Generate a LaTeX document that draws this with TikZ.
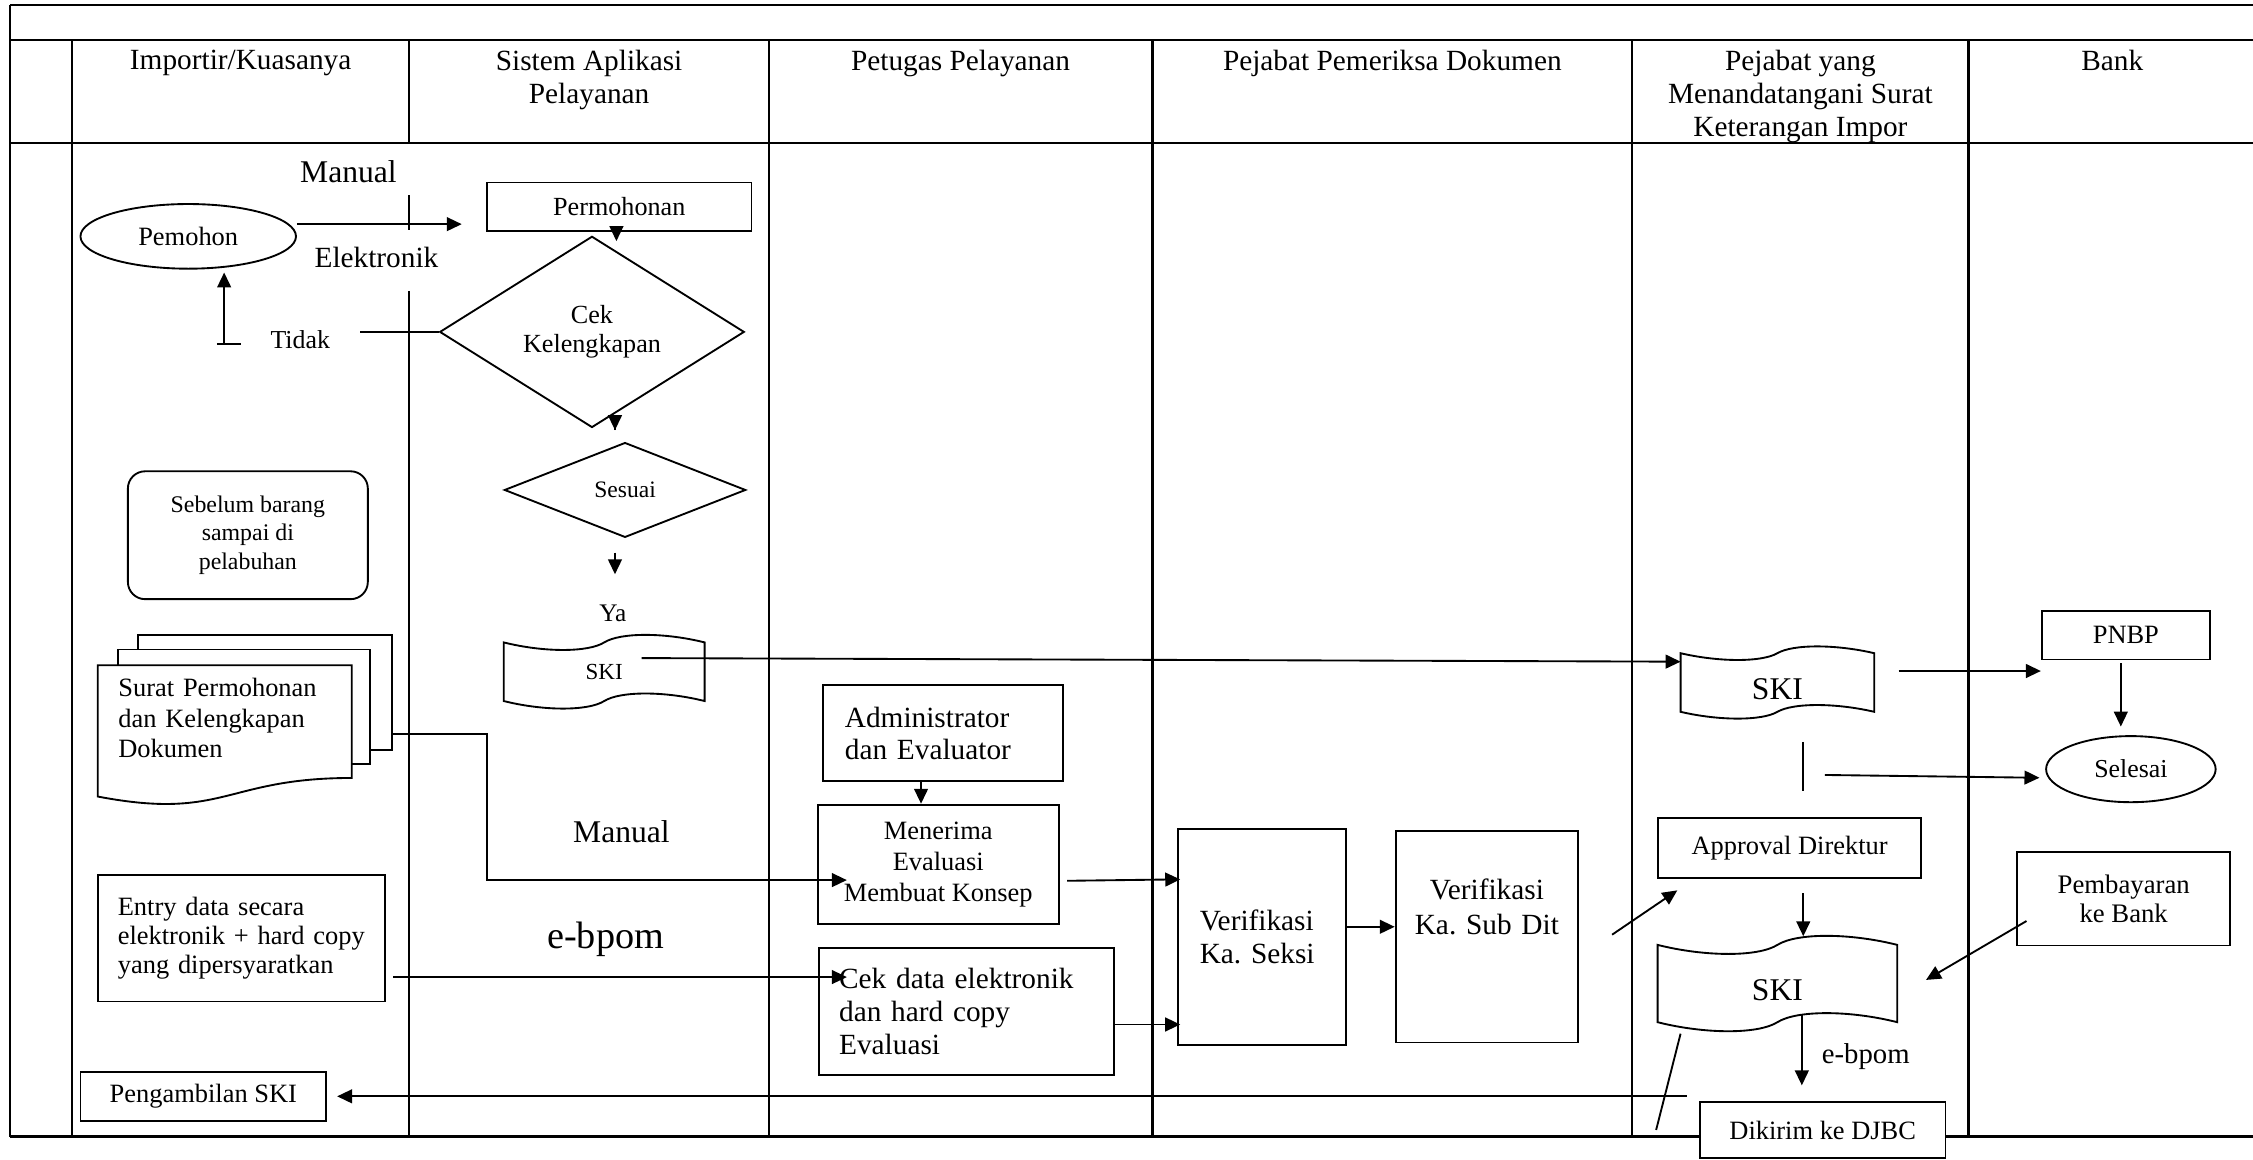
\documentclass[tikz,border=0pt]{standalone}
\usepackage{fontspec}
\setmainfont{Liberation Serif}
\usepackage{tikz}
\usetikzlibrary{positioning}
\usetikzlibrary{calc}
\usetikzlibrary{arrows.meta}
\usetikzlibrary{shapes.geometric}

\newcommand{\fsz}[2]{\fontsize{#1}{#2}\selectfont}

% punched tape outline round a node
\newcommand{\tapeoutline}[2]{%
  \draw[line width=0.65pt] (#1.north west)
    .. controls ($(#1.north west)!0.2!(#1.north east)+(0,1.4*#2)$) and ($(#1.north west)!0.42!(#1.north east)+(0,1.4*#2)$)
    .. ($(#1.north west)!0.5!(#1.north east)$)
    .. controls ($(#1.north west)!0.58!(#1.north east)-(0,1.4*#2)$) and ($(#1.north west)!0.8!(#1.north east)-(0,1.4*#2)$)
    .. (#1.north east) -- (#1.south east)
    .. controls ($(#1.south west)!0.8!(#1.south east)-(0,1.4*#2)$) and ($(#1.south west)!0.58!(#1.south east)-(0,1.4*#2)$)
    .. ($(#1.south west)!0.5!(#1.south east)$)
    .. controls ($(#1.south west)!0.42!(#1.south east)+(0,1.4*#2)$) and ($(#1.south west)!0.2!(#1.south east)+(0,1.4*#2)$)
    .. (#1.south west) -- cycle;}

% stacked documents round a node
\newcommand{\multidoc}[1]{%
  \draw[line width=0.65pt] ($(#1.north west)+(28,-11)$) -- ($(#1.north west)+(28,-21)$) -- ($(#1.north east)+(28,-21)$) -- ($(#1.north east)+(28,59)$) -- ($(#1.north east)+(13,59)$);
  \draw[line width=0.65pt] ($(#1.north west)+(14,0)$) -- ($(#1.north west)+(14,-11)$) -- ($(#1.north east)+(13,-11)$) -- ($(#1.north east)+(13,69)$) -- ($(#1.north east)+(0,69)$);
  \draw[line width=0.65pt] (#1.north west) -- (#1.north east)
    -- ($(#1.north east)!0.802!(#1.south east)$)
    .. controls ($(#1.north)!0.802!(#1.south)$) and ($(#1.north)!1.107!(#1.south)$)
    .. ($(#1.north west)!0.934!(#1.south west)$) -- cycle;}

\begin{document}
\frenchspacing
\begin{tikzpicture}[
    x=0.5pt, y=-0.5pt,
    tableline/.style={line width=0.8pt},
    headnode/.style={anchor=north, align=center, inner sep=0pt, font=\fsz{10.2}{11.5}},
    boxnode/.style={rectangle, draw=black, line width=0.65pt, inner sep=0pt, align=center, font=\fsz{9.2}{10.7}},
    leftnode/.style={boxnode, inner xsep=7pt, align=left},
    ellipsenode/.style={ellipse, draw=black, line width=0.65pt, inner sep=0pt, font=\fsz{9.2}{11}},
    diamondnode/.style={diamond, draw=black, line width=0.65pt, inner sep=0pt, align=center, font=\fsz{9.1}{10.25}},
    tapenode/.style={rectangle, inner sep=0pt},
    labelnode/.style={anchor=base, inner sep=0pt},
    arr/.style={-{Triangle[length=5.2pt,width=4.8pt]}, line width=0.65pt},
    plainline/.style={line width=0.65pt},
    ]

    \useasboundingbox (0,0) rectangle (1568,807);

    %Frame
    \draw[tableline] (7,3.5) -- (1568,3.5);
    \draw[tableline] (7,28) -- (1568,28);
    \draw[tableline] (7,99.5) -- (1568,99.5);
    \draw[tableline] (7,791) -- (1568,791);
    \draw[tableline] (7,3.5) -- (7,791);
    \foreach \x in {50,535,802,1136,1370}
        \draw[tableline] (\x,28) -- (\x,791);
    \draw[tableline] (284.6,28) -- (284.6,99.5);
    \draw[tableline] (284.6,136) -- (284.6,160);
    \draw[tableline] (284.6,202.5) -- (284.6,791);

    %Headers
    \node[headnode] (headimportir)  at (167.5,34.5) {Importir/Kuasanya};
    \node[headnode] (headsistem)    at (410,34.5)   {Sistem Aplikasi\\Pelayanan};
    \node[headnode] (headpetugas)   at (668.5,34.5) {Petugas Pelayanan};
    \node[headnode] (headpemeriksa) at (969,34.5)   {Pejabat Pemeriksa Dokumen};
    \node[headnode] (headpejabat)   at (1253,34.5)  {Pejabat yang\\Menandatangani Surat\\Keterangan Impor};
    \node[headnode] (headbank)      at (1470,34.5)  {Bank};

    %Nodes
    \node[ellipsenode, minimum width=75pt, minimum height=22.5pt] (pemohon) at (131,164.5) {Pemohon};
    \node[boxnode, minimum width=92pt, minimum height=17pt, font=\fsz{9.1}{10.7}] (permohonan) at (431,144) {Permohonan};
    \node[diamondnode, minimum width=106pt, minimum height=52pt] (cekkelengkapan) at (412,231) {Cek\\Kelengkapan};
    \node[diamondnode, minimum width=84pt, minimum height=33pt, font=\fsz{8.2}{10}] (sesuai) at (435,341) {Sesuai};
    \node[labelnode, font=\fsz{8.8}{10}] (ya) at (426.5,432.6) {Ya};
    \node[tapenode, minimum width=69.5pt, minimum height=20pt, font=\fsz{8}{10}] (skiaplikasi) at (420.5,467.5) {SKI};

    \node[boxnode, rounded corners=6pt, minimum width=83.5pt, minimum height=44.5pt, font=\fsz{8.3}{10}] (sebelumbarang) at (172.5,372.5) {Sebelum barang\\sampai di\\pelabuhan};
    \node[rectangle, anchor=north west, inner xsep=7pt, inner ysep=0pt, text width=74pt, align=left, text height=10.8pt, text depth=37.7pt, font=\fsz{9.2}{10.6}] (suratpermohonan) at (68,463) {Surat Permohonan\\dan Kelengkapan\\Dokumen};
    \node[leftnode, minimum height=44pt, text width=86pt, font=\fsz{9.2}{10.15}] (entrydata) at (168,653) {Entry data secara\\elektronik + hard copy\\yang dipersyaratkan};
    \node[boxnode, minimum width=85.5pt, minimum height=17pt] (pengambilanski) at (141.5,763) {Pengambilan SKI};

    \node[labelnode, font=\fsz{11}{12}]     (manualatas)  at (242.5,127)  {Manual};
    \node[labelnode, font=\fsz{10.2}{12}]   (elektronik)  at (262,186.5)  {Elektronik};
    \node[labelnode, font=\fsz{9}{11}]      (tidak)       at (209,242.5)  {Tidak};
    \node[labelnode, font=\fsz{11}{12}]     (manualbawah) at (432.5,586.4) {Manual};
    \node[labelnode, font=\fsz{13.3}{15}]   (ebpombawah)  at (421.5,660)  {e-bpom};

    \node[boxnode, minimum width=84pt, minimum height=41.5pt, font=\fsz{9.2}{10.75}] (menerima) at (653,601.5) {Menerima\\Evaluasi\\Membuat Konsep};
    \node[leftnode, inner xsep=7.5pt, text width=68.5pt, minimum height=33.5pt, font=\fsz{10.2}{11.15}] (administrator) [above=7.5pt of menerima, xshift=1.75pt] {Administrator\\dan Evaluator};
    \node[leftnode, minimum height=44pt, text width=88.5pt, font=\fsz{10.2}{11.6}] (cekdata) at (672.5,704) {Cek data elektronik\\dan hard copy\\Evaluasi};

    \node[leftnode, inner xsep=7.5pt, text width=43.5pt, minimum height=75pt, font=\fsz{10.2}{11.7}] (kaseksi) at (878.5,652) {Verifikasi\\Ka. Seksi};
    \node[boxnode, text width=63.5pt, text height=23.65pt, text depth=49.85pt, font=\fsz{10.2}{12.2}] (kasubdit) [right=16.5pt of kaseksi] {Verifikasi\\Ka. Sub Dit};

    \node[tapenode, minimum width=67pt, minimum height=20pt, text height=11.8pt, font=\fsz{11}{12}] (skiterbit) at (1237,475) {SKI};
    \node[boxnode, minimum width=91.5pt, minimum height=21pt] (approval) at (1245.5,590) {Approval Direktur};
    \node[tapenode, minimum width=83pt, minimum height=26.5pt, text height=11.8pt, font=\fsz{11}{12}] (skikirim) at (1237,684.5) {SKI};
    \node[boxnode, fill=white, minimum width=85.5pt, minimum height=19.5pt] (dikirim) at (1268.5,786.5) {Dikirim ke DJBC};
    \node[labelnode, font=\fsz{10}{12}] (ebpomkirim) at (1298.5,740) {e-bpom};

    \node[boxnode, minimum width=58.5pt, minimum height=17pt] (pnbp) at (1479.5,442) {PNBP};
    \node[ellipsenode, minimum width=59pt, minimum height=23pt, font=\fsz{9}{11}] (selesai) [below=26pt of pnbp, xshift=1.75pt] {Selesai};
    \node[boxnode, minimum width=74pt, minimum height=32.5pt, font=\fsz{9.3}{10.3}] (pembayaran) at (1478,625.5) {Pembayaran\\ke Bank};

    %Shapes
    \tapeoutline{skiaplikasi}{5}
    \tapeoutline{skiterbit}{4.5}
    \tapeoutline{skikirim}{6}
    \multidoc{suratpermohonan}

    %Lines
    \draw[arr] ($(pemohon.east)+(0,-8.5)$) -- ($(permohonan.west)+(-17,12)$);
    \draw[arr] ($(permohonan.south)+(-2,0)$) -- ($(cekkelengkapan.north)+(17,4)$);
    \draw[arr] ($(cekkelengkapan.south)+(16,1)$) -- ($(sesuai.north)+(-7,-8)$);
    \draw[arr] ($(sesuai.south)+(-7,10)$) -- ($(ya.north)+(1.5,-21)$);
    \draw[plainline] (cekkelengkapan.west) -- ($(cekkelengkapan.west)+(-55,0)$);
    \draw[plainline] ($(pemohon.south)+(20,52)$) -- ($(pemohon.south)+(36.5,52)$);
    \draw[arr] ($(pemohon.south)+(25,52)$) -- ($(pemohon.south)+(25,2)$);

    \draw[arr] ($(skiaplikasi.center)+(26,-9.5)$) -- ($(skiterbit.west)+(0,-14.5)$);
    \draw[arr] ($(suratpermohonan.north east)+(28,48)$) -| ($(menerima.west)+(-229.5,11)$) -- ($(menerima.west)+(21,11)$);
    \draw[arr] ($(entrydata.east)+(5,27)$) -- ($(cekdata.west)+(20,-24)$);

    \draw[arr] ($(administrator.south)+(-15.5,0)$) -- ($(menerima.north)+(-12,0)$);
    \draw[arr] ($(menerima.east)+(5,11.5)$) -- ($(kaseksi.west)+(2,-40)$);
    \draw[arr] ($(cekdata.east)+(0,9)$) -- ($(kaseksi.west)+(2,61)$);
    \draw[arr] ($(kaseksi.east)+(0,-7)$) -- ($(kasubdit.west)+(0,-7)$);
    \draw[arr] ($(kasubdit.east)+(23,-1.5)$) -- ($(approval.south west)+(14,8)$);

    \draw[arr] ($(skiterbit.east)+(17,-8)$) -- ($(pnbp.west)+(0,25)$);
    \draw[arr] ($(pnbp.south)+(-3.5,2)$) -- ($(selesai.north)+(-7,-6)$);
    \draw[plainline] ($(approval.north)+(9.5,-52)$) -- ($(approval.north)+(9.5,-18)$);
    \draw[arr] ($(approval.north)+(24.5,-29)$) -- ($(selesai.west)+(-4,6)$);
    \draw[arr] ($(approval.south)+(9.5,10)$) -- ($(skikirim.north)+(18,-6)$);
    \draw[arr] ($(pembayaran.west)+(7,15.5)$) -- ($(skikirim.east)+(20,-2.5)$);
    \draw[arr] ($(skikirim.south)+(17,-5)$) -- ($(dikirim.north)+(-14.5,-11)$);
    \draw[plainline] ($(skikirim.south west)+(16,8)$) -- ($(skikirim.south west)+(-1,75)$);

    \coordinate (ambilujung) at (1174,763);
    \draw[arr] (ambilujung) -- ($(pengambilanski.east)+(7,0)$);

\end{tikzpicture}
\end{document}
